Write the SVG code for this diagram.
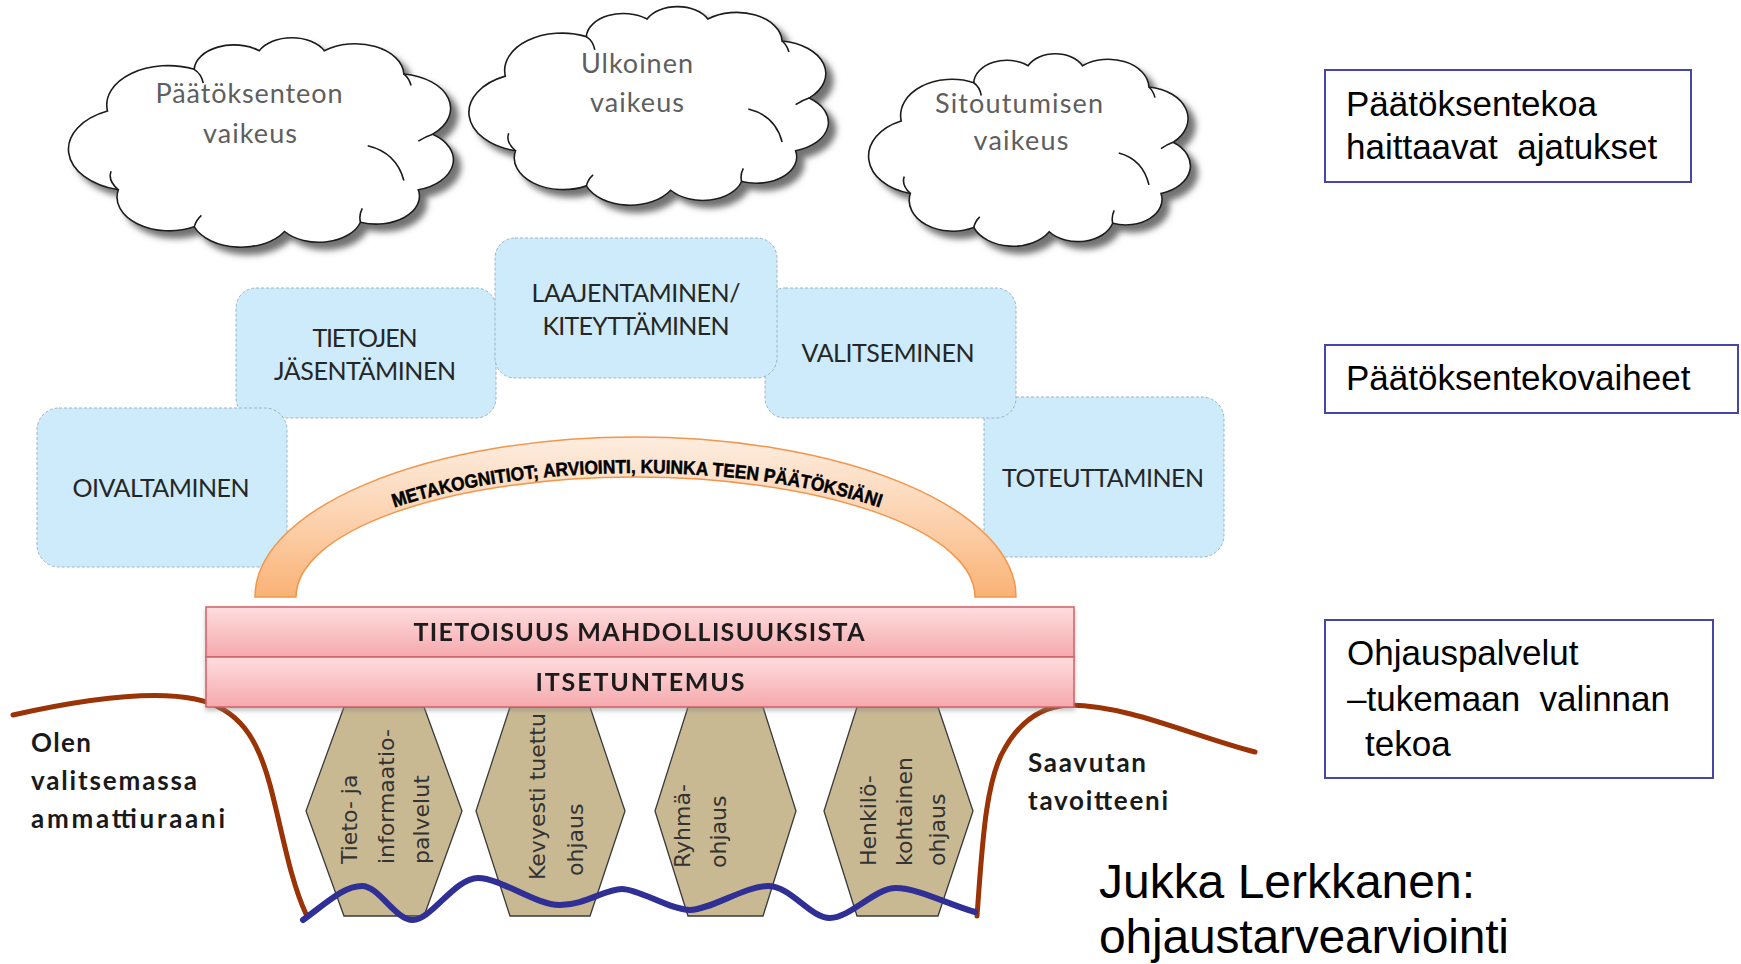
<svg xmlns="http://www.w3.org/2000/svg" width="1741" height="964" viewBox="0 0 1741 964">
  <defs>
    <filter id="cloudShadow" x="-10%" y="-10%" width="130%" height="130%">
      <feDropShadow dx="7" dy="7" stdDeviation="3" flood-color="#5a5a5a" flood-opacity="0.85"/>
    </filter>
    <filter id="barShadow" x="-5%" y="-20%" width="110%" height="150%">
      <feDropShadow dx="0" dy="3" stdDeviation="2" flood-color="#888" flood-opacity="0.5"/>
    </filter>
    <linearGradient id="archGrad" x1="0" y1="437" x2="0" y2="597" gradientUnits="userSpaceOnUse">
      <stop offset="0" stop-color="#FDEDE0"/>
      <stop offset="0.5" stop-color="#FCD3B0"/>
      <stop offset="1" stop-color="#FAB275"/>
    </linearGradient>
    <linearGradient id="barGrad" x1="0" y1="0" x2="0" y2="1">
      <stop offset="0" stop-color="#FFDDDE"/>
      <stop offset="1" stop-color="#F5A9AD"/>
    </linearGradient>
    <path id="cloudShape" vector-effect="non-scaling-stroke" d="M6,36 A17,17 0 0 1 30,18 A11,11 0 0 1 48,10 A10,10 0 0 1 66,10 A13.5,13.5 0 0 1 88,20 A15,15 0 0 1 96,46 A13.5,13.5 0 0 1 92,70 A12,12 0 0 1 76,84 A12,12 0 0 1 55,88 A14,14 0 0 1 30,86 A14.5,14.5 0 0 1 9,70 A18,18 0 0 1 6,36 Z"/>
    <path id="cloudInner" vector-effect="non-scaling-stroke" d="M30,18 Q32,20 32.5,24 M88,20 Q89.5,22 90,25 M96,46 Q94,47 92,49 M78,51 Q86,54 88,66 M76,84 Q75.5,81 76.5,78 M30,86 Q30.5,83 32,81 M9,70 Q6,66 7,62"/>
    <path id="archMid" d="M287,597 A350,124 0 0 1 987,597"/>
    <style>
      .cloud { fill:#ffffff; stroke:#1a1a1a; stroke-width:1.6; }
      .cloudLine { fill:none; stroke:#1a1a1a; stroke-width:1.6; }
      .cloudTxt { font-family:Lato, "Liberation Sans", sans-serif; font-size:27px; fill:#5e5e5e; text-anchor:middle; }
      .legend { fill:#ffffff; stroke:#4646a6; stroke-width:2; }
      .legendTxt { font-family:"Liberation Sans", Arial, sans-serif; font-size:35px; fill:#000; }
      .step { fill:#CDEBFB; stroke:#9DB4C2; stroke-width:1; stroke-dasharray:3 2; }
      .stepTxt { font-family:Lato, "Liberation Sans", sans-serif; font-size:25px; fill:#262626; text-anchor:middle; }
      .bar { fill:url(#barGrad); stroke:#D35F64; stroke-width:1.5; }
      .barTxt { font-family:Lato, "Liberation Sans", sans-serif; font-size:25px; font-weight:bold; fill:#1a1a1a; text-anchor:middle; }
      .hex { fill:#C9B992; stroke:#3a3a3a; stroke-width:1.3; }
      .hexTxt { font-family:"DejaVu Sans", Verdana, sans-serif; font-size:22px; fill:#333; }
      .side { font-family:Lato, "Liberation Sans", sans-serif; font-size:26px; font-weight:bold; fill:#1a1a1a; }
      .brown { fill:none; stroke:#9A3306; stroke-width:5; stroke-linecap:round; }
      .wave { fill:none; stroke:#2F2F96; stroke-width:6; stroke-linecap:round; }
    </style>
  </defs>

  <rect x="0" y="0" width="1741" height="964" fill="#ffffff"/>

  <!-- Clouds -->
  <g id="cloud-paatoksenteon">
    <g filter="url(#cloudShadow)">
      <use href="#cloudShape" class="cloud" transform="translate(85.8,27.6) scale(3.614,2.317)"/>
    </g>
    <use href="#cloudInner" class="cloudLine" transform="translate(85.8,27.6) scale(3.614,2.317)"/>
    <text class="cloudTxt" x="249" y="103" textLength="187">Päätöksenteon</text>
    <text class="cloudTxt" x="250" y="143" textLength="94">vaikeus</text>
  </g>
  <g id="cloud-ulkoinen">
    <g filter="url(#cloudShadow)">
      <use href="#cloudShape" class="cloud" transform="translate(485.1,-2.9) scale(3.375,2.195)"/>
    </g>
    <use href="#cloudInner" class="cloudLine" transform="translate(485.1,-2.9) scale(3.375,2.195)"/>
    <text class="cloudTxt" x="637" y="73" textLength="112">Ulkoinen</text>
    <text class="cloudTxt" x="637" y="112" textLength="94">vaikeus</text>
  </g>
  <g id="cloud-sitoutumisen">
    <g filter="url(#cloudShadow)">
      <use href="#cloudShape" class="cloud" transform="translate(883.1,44.4) scale(3.021,2.129)"/>
    </g>
    <use href="#cloudInner" class="cloudLine" transform="translate(883.1,44.4) scale(3.021,2.129)"/>
    <text class="cloudTxt" x="1019" y="113" textLength="168">Sitoutumisen</text>
    <text class="cloudTxt" x="1021" y="150" textLength="95">vaikeus</text>
  </g>

  <!-- Legend boxes -->
  <g id="legend-haittaavat">
    <rect class="legend" x="1325" y="70" width="366" height="112"/>
    <text class="legendTxt" x="1346" y="116">Päätöksentekoa</text>
    <text class="legendTxt" x="1346" y="159">haittaavat&#160; ajatukset</text>
  </g>
  <g id="legend-vaiheet">
    <rect class="legend" x="1325" y="345" width="413" height="68"/>
    <text class="legendTxt" x="1346" y="390">Päätöksentekovaiheet</text>
  </g>
  <g id="legend-ohjauspalvelut">
    <rect class="legend" x="1325" y="620" width="388" height="158"/>
    <text class="legendTxt" x="1347" y="665">Ohjauspalvelut</text>
    <text class="legendTxt" x="1347" y="711">–tukemaan&#160; valinnan</text>
    <text class="legendTxt" x="1365" y="756">tekoa</text>
  </g>

  <!-- Decision steps -->
  <g id="step-tietojen">
    <rect class="step" x="236" y="288" width="260" height="130" rx="20"/>
    <text class="stepTxt" x="365" y="347" textLength="105">TIETOJEN</text>
    <text class="stepTxt" x="365" y="380" textLength="182">JÄSENTÄMINEN</text>
  </g>
  <g id="step-oivaltaminen">
    <rect class="step" x="37" y="408" width="250" height="159" rx="22"/>
    <text class="stepTxt" x="161" y="497" textLength="177">OIVALTAMINEN</text>
  </g>
  <g id="step-toteuttaminen">
    <rect class="step" x="984" y="397" width="240" height="160" rx="22"/>
    <text class="stepTxt" x="1103" y="487" textLength="202">TOTEUTTAMINEN</text>
  </g>
  <g id="step-valitseminen">
    <rect class="step" x="765" y="288" width="251" height="130" rx="20"/>
    <text class="stepTxt" x="888" y="362" textLength="173">VALITSEMINEN</text>
  </g>
  <g id="step-laajentaminen">
    <rect class="step" x="495" y="238" width="282" height="140" rx="20"/>
    <text class="stepTxt" x="636" y="302" textLength="209">LAAJENTAMINEN/</text>
    <text class="stepTxt" x="636" y="335" textLength="187">KITEYTTÄMINEN</text>
  </g>

  <!-- Metacognition arch -->
  <g id="arch-metakognitiot">
    <path d="M255,597 A380.5,160 0 0 1 1016,597 L975,597 A339.5,120 0 0 0 296,597 Z" fill="url(#archGrad)" stroke="#F3954A" stroke-width="1.5"/>
    <text font-family="'Liberation Sans', Arial, sans-serif" font-size="19" font-weight="bold" fill="#000" stroke="#000" stroke-width="0.5">
      <textPath href="#archMid" startOffset="50%" text-anchor="middle" textLength="492" lengthAdjust="spacingAndGlyphs">METAKOGNITIOT; ARVIOINTI, KUINKA TEEN PÄÄTÖKSIÄNI</textPath>
    </text>
  </g>

  <!-- Path lines -->
  <g id="lines">
    <path class="brown" d="M13,715 C80,700 150,690 195,699 C240,708 258,740 270,785 C282,830 290,880 306,914"/>
    <path class="brown" d="M977,916 C982,850 985,780 1005,748 C1020,722 1040,706 1070,705 C1130,706 1190,735 1255,752"/>
  </g>

  <!-- Guidance services -->
  <g id="hex-tieto">
    <polygon class="hex" points="344,707 424,707 462,811 424,916 344,916 306,811"/>
    <text class="hexTxt" transform="translate(357,864) rotate(-90)">Tieto- ja</text>
    <text class="hexTxt" transform="translate(394,864) rotate(-90)">informaatio-</text>
    <text class="hexTxt" transform="translate(429,864) rotate(-90)">palvelut</text>
  </g>
  <g id="hex-kevyesti">
    <polygon class="hex" points="510,707 590,707 625,811 590,916 510,916 476,811"/>
    <text class="hexTxt" transform="translate(545,880) rotate(-90)">Kevyesti tuettu</text>
    <text class="hexTxt" transform="translate(583,876) rotate(-90)">ohjaus</text>
  </g>
  <g id="hex-ryhma">
    <polygon class="hex" points="688,707 763,707 796,811 763,916 688,916 655,811"/>
    <text class="hexTxt" transform="translate(690,868) rotate(-90)">Ryhmä-</text>
    <text class="hexTxt" transform="translate(726,868) rotate(-90)">ohjaus</text>
  </g>
  <g id="hex-henkilo">
    <polygon class="hex" points="857,707 938,707 973,811 938,916 857,916 824,811"/>
    <text class="hexTxt" transform="translate(876,866) rotate(-90)">Henkilö-</text>
    <text class="hexTxt" transform="translate(912,866) rotate(-90)">kohtainen</text>
    <text class="hexTxt" transform="translate(945,866) rotate(-90)">ohjaus</text>
  </g>

  <g id="wave">
    <path class="wave" d="M303,920 C330,900 345,886 362,886 S395,920 413,920 S455,878 478,878 S535,905 560,905 S605,889 622,889 S670,910 690,910 S745,886 768,886 S810,918 830,918 S875,888 896,888 S950,905 975,912"/>
  </g>

  <!-- Foundation bars -->
  <g id="bar-tietoisuus" filter="url(#barShadow)">
    <rect class="bar" x="206" y="607" width="868" height="50"/>
    <text class="barTxt" x="639" y="641" textLength="451">TIETOISUUS MAHDOLLISUUKSISTA</text>
  </g>
  <g id="bar-itsetuntemus" filter="url(#barShadow)">
    <rect class="bar" x="206" y="657" width="868" height="50"/>
    <text class="barTxt" x="640" y="691" textLength="209">ITSETUNTEMUS</text>
  </g>

  <!-- Side labels -->
  <g id="label-olen">
    <text class="side" x="31" y="752" textLength="60">Olen</text>
    <text class="side" x="31" y="790" textLength="166">valitsemassa</text>
    <text class="side" x="31" y="828" textLength="194">ammattiuraani</text>
  </g>
  <g id="label-saavutan">
    <text class="side" x="1028" y="772" textLength="118">Saavutan</text>
    <text class="side" x="1028" y="810" textLength="140">tavoitteeni</text>
  </g>
  <g id="label-author">
    <text font-family="'Liberation Sans', Arial, sans-serif" font-size="48" fill="#000" x="1099" y="898" textLength="376">Jukka Lerkkanen:</text>
    <text font-family="'Liberation Sans', Arial, sans-serif" font-size="48" fill="#000" x="1099" y="953" textLength="410">ohjaustarvearviointi</text>
  </g>
</svg>
